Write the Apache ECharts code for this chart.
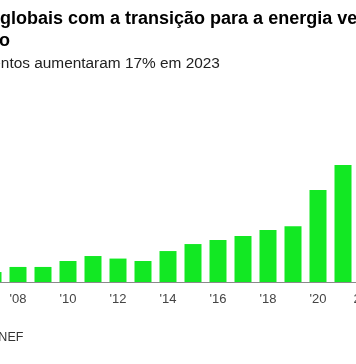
<!DOCTYPE html>
<html>
<head>
<meta charset="utf-8">
<script src="https://cdn.jsdelivr.net/npm/echarts@6/dist/echarts.min.js"></script>
<style>html,body{margin:0;padding:0;background:#fff;overflow:hidden;width:356px;height:364px;position:relative;}#c{position:absolute;left:-110px;top:0;width:520px;height:364px;}</style>
</head>
<body>
<div id="c"></div>
<script>
// Data (energy transition investment, US$ bn)
var years = ["2004","2005","2006","2007","2008","2009","2010","2011","2012","2013","2014","2015","2016","2017","2018","2019","2020","2021","2022","2023"];
var values = [40, 60, 75, 94, 142, 142, 198, 245, 221, 198, 292, 358, 396, 434, 491, 525, 868, 1104, 1510, 1770];
var tickLabels = {"2004":"2004","2006":"'06","2008":"'08","2010":"'10","2012":"'12","2014":"'14","2016":"'16","2018":"'18","2020":"'20","2022":"2022"};
var titleLines = ["Gastos globais com a transição para a energia verde crescem em todo", "o mundo"];
var subtitle = "Investimentos aumentaram 17% em 2023";
var source = "Fonte: BloombergNEF";

var chart = echarts.init(document.getElementById('c'), null, {renderer:'canvas'});
var F = '"Liberation Sans", Arial, sans-serif';
var OX = 110; // container offset
chart.setOption({
  animation: false,
  grid: {left: 15.5, width: 500, top: 70, bottom: 82, containLabel: false},
  xAxis: {
    type: 'category',
    data: years,
    axisLine: {lineStyle: {color: '#8a8a8a', width: 1}},
    axisTick: {
      alignWithLabel: true, length: 5,
      lineStyle: {color: '#555'},
      interval: function (i, v) { return tickLabels[v] !== undefined; }
    },
    axisLabel: {
      interval: function (i, v) { return tickLabels[v] !== undefined; },
      formatter: function (v) { return tickLabels[v] || ''; },
      color: '#444', fontSize: 13, fontFamily: F, margin: 11
    }
  },
  yAxis: {type: 'value', min: 0, max: 2000, show: false, splitLine: {show: false}},
  series: [{
    type: 'bar', data: values, barWidth: 17,
    itemStyle: {color: '#12e823'}
  }],
  graphic: [
    {type: 'text', x: OX - 66, y: 10, style: {text: titleLines[0], font: 'bold 18px ' + F, fill: '#000', textVerticalAlign: 'top'}},
    {type: 'text', x: OX - 66, y: 32, style: {text: titleLines[1], font: 'bold 18px ' + F, fill: '#000', textVerticalAlign: 'top'}},
    {type: 'text', x: OX - 65, y: 56, style: {text: subtitle, font: '15.4px ' + F, fill: '#222', textVerticalAlign: 'top'}},
    {type: 'text', x: OX - 101, y: 331, style: {text: source, font: '12.5px ' + F, fill: '#333', textVerticalAlign: 'top'}}
  ]
});
</script>
</body>
</html>
